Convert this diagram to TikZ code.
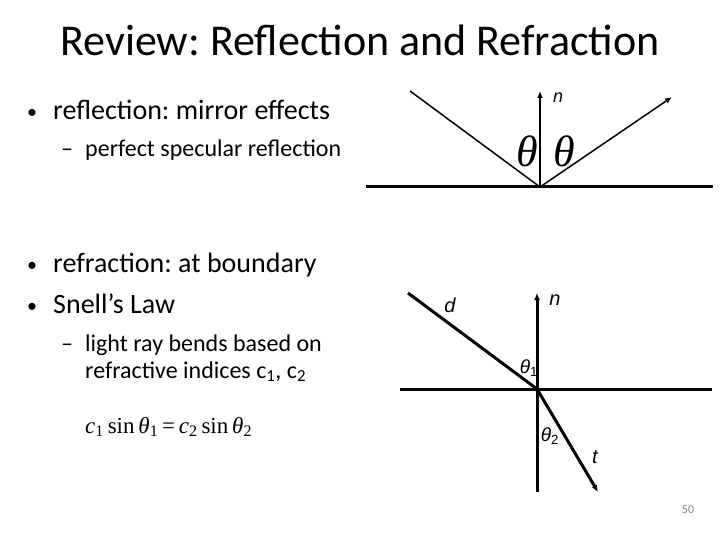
\documentclass[tikz,border=0pt]{standalone}
\usepackage{fontspec}
\setmainfont{Carlito}
\newfontfamily\timesfont{Liberation Serif}
\newfontfamily\arialfont{Liberation Sans}
\usetikzlibrary{arrows.meta}
\frenchspacing
\tikzset{
  txt/.style={anchor=base west, inner sep=0pt},
  dot/.style={anchor=base, inner sep=0pt, font=\fontsize{20}{24}\selectfont},
  surface/.style={line width=3pt},
  thinray/.style={line width=1.5pt},
  thickray/.style={line width=3pt},
  tip/.style={-{Latex[length=7pt,width=6pt]}},
}
\begin{document}
\begin{tikzpicture}[x=1pt,y=-1pt]
\useasboundingbox (0,0) rectangle (720,540);

% Title
\node (title) [anchor=base, inner sep=0pt, font=\fontsize{44}{48}\selectfont] at (360,56) {Review: Reflection and Refraction};

% Bullet list
\node (b1) [dot] at (32,119) {•};
\node (l1) [txt, font=\fontsize{28}{32}\selectfont] at (53,120) {reflection: mirror effects};
\node (d1) [txt, font=\fontsize{24}{28}\selectfont] at (61,157) {–};
\node (l2) [txt, font=\fontsize{24}{28}\selectfont] at (85,157) {perfect specular reflection};
\node (b2) [dot] at (32,271) {•};
\node (l3) [txt, font=\fontsize{28}{32}\selectfont] at (53,272) {refraction: at boundary};
\node (b3) [dot] at (32,312) {•};
\node (l4) [txt, font=\fontsize{28}{32}\selectfont] at (53,313) {Snell’s Law};
\node (d2) [txt, font=\fontsize{24}{28}\selectfont] at (61,351) {–};
\node (l5) [txt, font=\fontsize{24}{28}\selectfont] at (85,351) {light ray bends based on};
\node (l6) [txt, font=\fontsize{24}{28}\selectfont] at (85,378) {refractive indices c\textsubscript{1}, c\textsubscript{2}};

% Snell's law equation
\node (snell) [txt, font=\timesfont\fontsize{23}{26}\selectfont] at (85,433)
  {\textit{c}\textsubscript{1}\,sin\,\textit{θ}\textsubscript{1}\,=\,\textit{c}\textsubscript{2}\,sin\,\textit{θ}\textsubscript{2}};

% Reflection
\coordinate (rhit) at (540,187);
\coordinate (rl) at (366,187);
\coordinate (rr) at (713,187);
\coordinate (rin) at (410,91);
\coordinate (rout) at (672,97);
\coordinate (rn) at (540,91);
\draw [surface] (rl) -- (rr);
\draw [thinray] (rin) -- (rhit);
\draw [thinray, tip] (rhit) -- (rn);
\draw [thinray, tip] (rhit) -- (rout);
\node (rnlab) [font=\arialfont\itshape\fontsize{18}{20}\selectfont] at (558,98) {n};
\node (th1) [font=\timesfont\itshape\fontsize{44}{46}\selectfont] at (527,151) {θ};
\node (th2) [font=\timesfont\itshape\fontsize{44}{46}\selectfont] at (564,151) {θ};

% Refraction
\coordinate (fhit) at (537,389);
\coordinate (fl) at (400,389);
\coordinate (fr) at (712,389);
\coordinate (fin) at (408,293);
\coordinate (fout) at (598,492);
\coordinate (fn) at (537,293);
\coordinate (fbot) at (537,492);
\draw [thickray] (fl) -- (fr);
\draw [thickray, tip] (fbot) -- (fn);
\draw [thickray] (fin) -- (fhit);
\draw [thickray, tip] (fhit) -- (fout);
\node (dlab) [font=\arialfont\itshape\fontsize{20}{22}\selectfont] at (450,305) {d};
\node (fnlab) [font=\arialfont\itshape\fontsize{20}{22}\selectfont] at (555,300) {n};
\node (tlab) [font=\arialfont\itshape\fontsize{20}{22}\selectfont] at (595,457) {t};
\node (th3) [font=\arialfont\itshape\fontsize{19}{22}\selectfont] at (529,368) {θ\textsubscript{\upshape 1}};
\node (th4) [font=\arialfont\itshape\fontsize{19}{22}\selectfont] at (550,436) {θ\textsubscript{\upshape 2}};

% Page number
\node (page) [font=\fontsize{12}{14}\selectfont, text=gray] at (688,510) {50};
\end{tikzpicture}
\end{document}
